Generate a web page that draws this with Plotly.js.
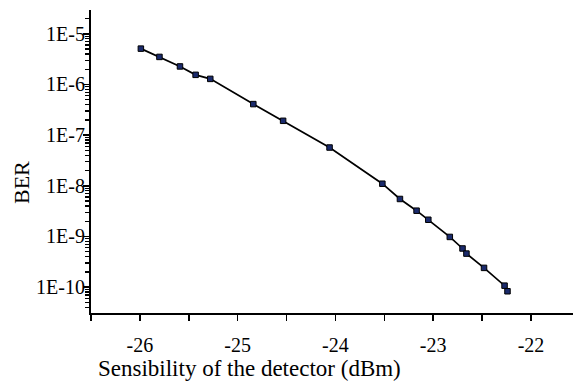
<!DOCTYPE html>
<html>
<head>
<meta charset="utf-8">
<script src="https://cdn.plot.ly/plotly-3.0.1.min.js"></script>
<style>html,body{margin:0;padding:0;background:#fff;}#chart{width:573px;height:383px;}</style>
</head>
<body>
<div id="chart"></div>
<script>
const sensitivity = [-25.99, -25.80, -25.59, -25.43, -25.28, -24.84, -24.535, -24.06, -23.52, -23.34, -23.17, -23.05, -22.83, -22.70, -22.66, -22.48, -22.27, -22.24];
const ber = [5.1e-6, 3.5e-6, 2.27e-6, 1.55e-6, 1.29e-6, 4.1e-7, 1.92e-7, 5.7e-8, 1.1e-8, 5.5e-9, 3.23e-9, 2.14e-9, 9.8e-10, 5.8e-10, 4.6e-10, 2.4e-10, 1.07e-10, 8.3e-11];
const xTickVals = [-26, -25, -24, -23, -22];
const xTickText = ['-26', '-25', '-24', '-23', '-22'];
const yTickVals = [1e-10, 1e-9, 1e-8, 1e-7, 1e-6, 1e-5];
const yTickText = ['1E-10', '1E-9', '1E-8', '1E-7', '1E-6', '1E-5'];
const xTitle = 'Sensibility of the detector (dBm)';
const yTitle = 'BER';

const font = 'Liberation Serif';
Plotly.newPlot('chart', [{
  x: sensitivity,
  y: ber,
  type: 'scatter',
  mode: 'lines+markers',
  line: {color: '#000', width: 1.7},
  marker: {symbol: 'square', size: 5.5, color: '#1a2a6c', line: {color: '#000', width: 1}},
  showlegend: false
}], {
  width: 573, height: 383,
  margin: {l: 91, r: 0, t: 10, b: 70},
  paper_bgcolor: '#fff', plot_bgcolor: '#fff',
  font: {family: font, size: 20, color: '#000'},
  xaxis: {
    range: [-26.5, -21.57],
    tickmode: 'array', tickvals: xTickVals, ticktext: xTickText,
    ticks: 'outside', ticklen: 6, tickwidth: 1.5, tickcolor: '#000',
    ticklabelstandoff: 7,
    minor: {dtick: 0.5, tick0: -26, ticks: 'outside', ticklen: 6, tickwidth: 1.5, tickcolor: '#000', showgrid: false},
    showline: true, linecolor: '#000', linewidth: 2,
    showgrid: false, zeroline: false,
    tickfont: {family: font, size: 20, color: '#000'}
  },
  yaxis: {
    type: 'log',
    range: [-10.51, -4.53],
    tickmode: 'array', tickvals: yTickVals, ticktext: yTickText,
    ticks: 'outside', ticklen: 6, tickwidth: 1.5, tickcolor: '#000',
    ticklabelstandoff: -6,
    minor: {dtick: 'D1', ticks: 'outside', ticklen: 4, tickwidth: 1.2, tickcolor: '#000', showgrid: false},
    showline: true, linecolor: '#000', linewidth: 2,
    showgrid: false, zeroline: false,
    tickfont: {family: font, size: 20, color: '#000'}
  },
  annotations: [
    {text: xTitle, xref: 'paper', yref: 'paper', x: 0.328, y: -0.183, xanchor: 'center', yanchor: 'middle',
     showarrow: false, font: {family: font, size: 23, color: '#000'}},
    {text: yTitle, xref: 'paper', yref: 'paper', x: -0.1452, y: 0.429, xanchor: 'center', yanchor: 'middle',
     textangle: -90, showarrow: false, font: {family: font, size: 22, color: '#000'}}
  ]
}, {displayModeBar: false, staticPlot: true});
</script>
</body>
</html>
